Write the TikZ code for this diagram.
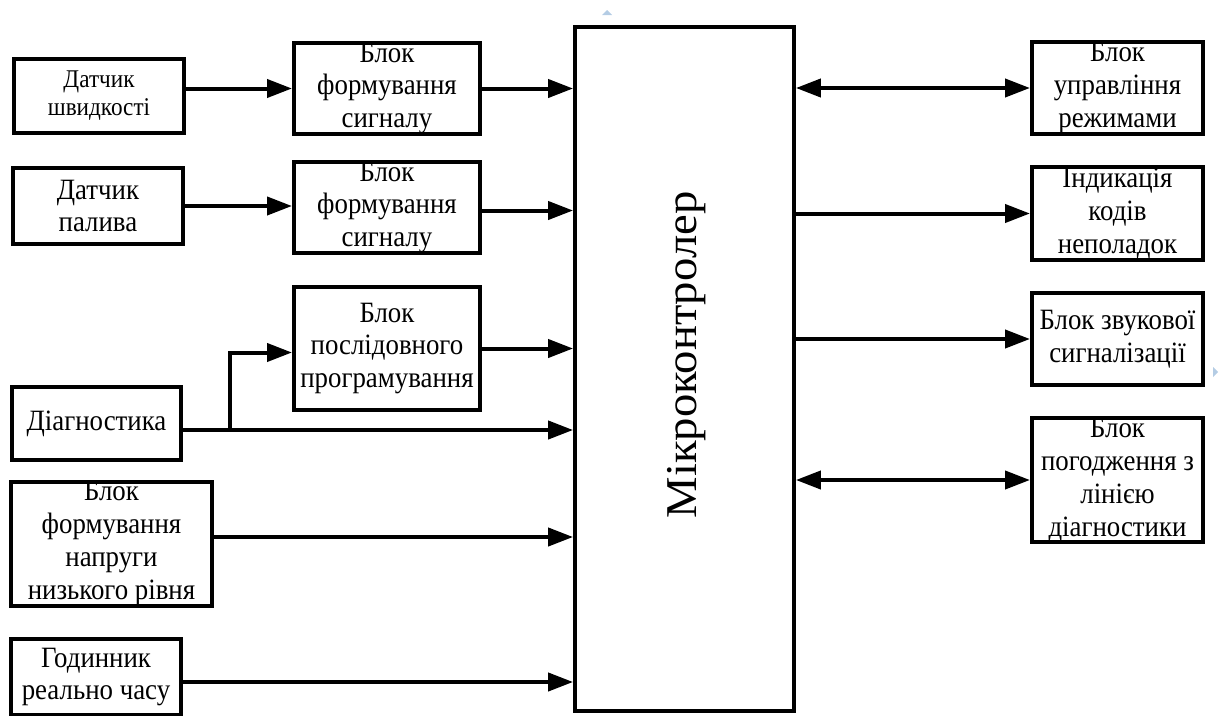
\documentclass[tikz,border=0pt]{standalone}
\usepackage{fontspec}
\setmainfont{Liberation Serif}[FakeStretch=0.91]
\newfontfamily\mcfont{Liberation Serif}
\usetikzlibrary{arrows.meta}
\definecolor{handle}{HTML}{B4CCE4}
\tikzset{
  box/.style={draw, line width=4pt, inner sep=0pt, align=center, font=\fontsize{29.5}{32.8}\selectfont},
  smallbox/.style={box, font=\fontsize{25.5}{28}\selectfont},
  arr/.style={line width=4pt, -{Triangle[length=25pt,width=18pt]}},
  darr/.style={line width=4pt, {Triangle[length=25pt,width=18pt]}-{Triangle[length=25pt,width=18pt]}}
}
\begin{document}
\begin{tikzpicture}[x=1pt,y=-1pt]
\useasboundingbox (0,0) rectangle (1220,715);
\clip (0,0) rectangle (1220,715);
% left column
\node[smallbox, minimum width=170, minimum height=74] (ds) at (99,96) {Датчик\\швидкості};
\node[box, minimum width=170, minimum height=76] (dp) at (98,206) {Датчик\\палива};
\node[box, minimum width=169, minimum height=73] (dg) at (96.5,423.5) {Діагностика};
\node[box, minimum width=201, minimum height=123] (bn) at (111.5,543.5) {Блок\\формування\\напруги\\низького рівня};
\node[box, minimum width=170, minimum height=76] (gd) at (96,677) {Годинник\\реально часу};
% middle column
\node[box, minimum width=186, minimum height=91] (bf1) at (387,88.5) {Блок\\формування\\сигналу};
\node[box, minimum width=186, minimum height=91] (bf2) at (387,207.5) {Блок\\формування\\сигналу};
\node[box, minimum width=186, minimum height=123] (bp) at (387,348.5) {Блок\\послідовного\\програмування};
% microcontroller
\node[draw, line width=3.8pt, inner sep=0pt, minimum width=219, minimum height=684] (mc) at (684.5,369) {};
\node[rotate=90, inner sep=0pt] (mct) at (687,355) {\scalebox{1.06}[1]{\mcfont\fontsize{44}{44}\selectfont Мікроконтролер}};
% right column
\node[box, minimum width=171, minimum height=92] (bu) at (1117.5,88) {Блок\\управління\\режимами};
\node[box, minimum width=171, minimum height=93] (ik) at (1117.5,213.5) {Індикація\\кодів\\неполадок};
\node[box, minimum width=171, minimum height=92] (bz) at (1117.5,339) {Блок звукової\\сигналізації};
\node[box, minimum width=171, minimum height=122] (bpg) at (1117.5,480) {Блок\\погодження з\\лінією\\діагностики};
% connectors left
\draw[arr] (ds.east |- bf1.west) -- (bf1.west);
\draw[arr] (bf1.east) -- (bf1.east -| mc.west);
\draw[arr] (dp.east) -- (dp.east -| bf2.west);
\draw[arr] ([yshift=-3pt]bf2.east) -- ([yshift=-3pt]bf2.east -| mc.west);
\draw[arr] (bp.east) -- (bp.east -| mc.west);
\draw[arr] ([yshift=-6.5pt]dg.east) -- ([yshift=-6.5pt]dg.east -| mc.west);
\coordinate (br) at (230,430);
\draw[arr] (br) |- ([yshift=-4pt]bp.west);
\draw[arr] ([yshift=6.5pt]bn.east) -- ([yshift=6.5pt]bn.east -| mc.west);
\draw[arr] ([yshift=-5pt]gd.east) -- ([yshift=-5pt]gd.east -| mc.west);
% connectors right
\draw[darr] (bu.west -| mc.east) -- (bu.west);
\draw[arr] (ik.west -| mc.east) -- (ik.west);
\draw[arr] (bz.west -| mc.east) -- (bz.west);
\draw[darr] (bpg.west -| mc.east) -- (bpg.west);
% selection handles
\fill[handle] (602,15) -- (612,15) -- (607,10) -- cycle;
\fill[handle] (1213,367) -- (1213,377) -- (1218,372) -- cycle;
\end{tikzpicture}
\end{document}
